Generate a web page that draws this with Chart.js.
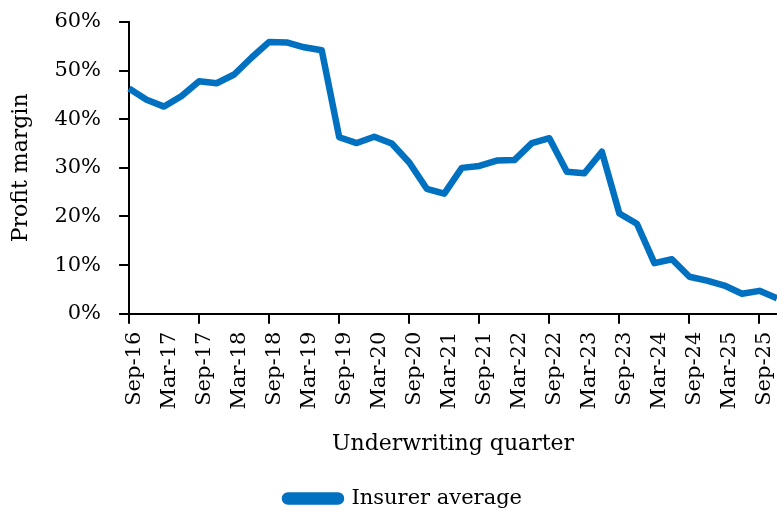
<!DOCTYPE html>
<html>
<head>
<meta charset="utf-8">
<script src="https://cdn.jsdelivr.net/npm/chart.js@4/dist/chart.umd.min.js"></script>
<style>
    html, body { margin: 0; padding: 0; background: #fff; }
    #wrap { width: 777px; height: 510px; position: relative; }
</style>
</head>
<body>
<div id="wrap"><canvas id="margin-chart"></canvas></div>
<script>
// underwriting quarters, Sep-16 .. Dec-25
const quarters = [
    'Sep-16', 'Dec-16', 'Mar-17', 'Jun-17', 'Sep-17', 'Dec-17', 'Mar-18', 'Jun-18',
    'Sep-18', 'Dec-18', 'Mar-19', 'Jun-19', 'Sep-19', 'Dec-19', 'Mar-20', 'Jun-20',
    'Sep-20', 'Dec-20', 'Mar-21', 'Jun-21', 'Sep-21', 'Dec-21', 'Mar-22', 'Jun-22',
    'Sep-22', 'Dec-22', 'Mar-23', 'Jun-23', 'Sep-23', 'Dec-23', 'Mar-24', 'Jun-24',
    'Sep-24', 'Dec-24', 'Mar-25', 'Jun-25', 'Sep-25', 'Dec-25'
];

// profit margin, %
const insurerAverage = [
    46.3, 44.0, 42.6, 44.8, 47.8, 47.4, 49.2, 52.7,
    55.9, 55.8, 54.8, 54.2, 36.3, 35.1, 36.4, 35.0,
    31.1, 25.7, 24.7, 30.0, 30.4, 31.5, 31.6, 35.1,
    36.1, 29.2, 28.9, 33.3, 20.6, 18.5, 10.4, 11.2,
    7.6, 6.8, 5.8, 4.1, 4.7, 3.2
];

const yTicks = [0, 10, 20, 30, 40, 50, 60];

const font = {family: '"DejaVu Serif", serif', size: 21};
const titleFont = {family: '"DejaVu Serif", serif', size: 22};
const ink = '#000';
const blue = '#0070C0';

// only every second quarter gets a tick and a label, not the very last one
function showTick(index) {
    return index % 2 === 0 && index < quarters.length - 1;
}

// the legend sits a bit right of the canvas centre and low in the original
const legendShift = {
    id: 'legendShift',
    afterLayout(chart) {
        if (chart.legend) {
            chart.legend.left += 13;
            chart.legend.right += 13;
            chart.legend.top += 9;
            chart.legend.bottom += 9;
        }
    }
};

let chart = new Chart(document.querySelector('#margin-chart'), {
    type: 'line',
    data: {
        labels: quarters,
        datasets: [{
            label: 'Insurer average',
            data: insurerAverage,
            borderColor: blue,
            backgroundColor: blue,
            borderWidth: 6.5,
            borderJoinStyle: 'round',
            pointRadius: 0,
            tension: 0,
        }]
    },
    plugins: [legendShift],
    options: {
        responsive: true,
        maintainAspectRatio: false,
        animation: false,
        layout: {padding: {top: 0, left: 4, right: 0, bottom: 0}},
        plugins: {
            tooltip: {enabled: false},
            legend: {
                position: 'bottom',
                labels: {
                    color: ink,
                    font: font,
                    boxWidth: 56,
                    boxHeight: 6,
                    useBorderRadius: true,
                    borderRadius: 3,
                    padding: 0,
                },
            },
        },
        scales: {
            x: {
                offset: false,
                border: {display: true, color: ink, width: 2},
                grid: {
                    drawOnChartArea: false,
                    drawTicks: true,
                    tickLength: 10,
                    lineWidth: 2,
                    color: (ctx) => showTick(ctx.index) ? ink : 'rgba(0,0,0,0)',
                },
                ticks: {
                    autoSkip: false,
                    maxRotation: 90,
                    minRotation: 90,
                    padding: 8,
                    labelOffset: 5,
                    color: ink,
                    font: font,
                    callback: function (value, index) {
                        return showTick(index) ? quarters[index] : null;
                    },
                },
                // the plot runs right up to the canvas edge
                afterFit: (scale) => {
                    scale.paddingRight = 0;
                },
                title: {
                    display: true,
                    text: 'Underwriting quarter',
                    color: ink,
                    font: titleFont,
                    padding: {top: 13, bottom: 22},
                },
            },
            y: {
                min: yTicks[0],
                max: yTicks[yTicks.length - 1],
                border: {display: true, color: ink, width: 2},
                grid: {drawOnChartArea: false, drawTicks: true, tickLength: 10, lineWidth: 2, color: ink},
                ticks: {
                    stepSize: 10,
                    padding: 18,
                    color: ink,
                    font: font,
                    callback: (value) => value + '%',
                },
                afterBuildTicks: (scale) => {
                    scale.ticks = yTicks.map((v) => ({value: v}));
                },
                afterFit: (scale) => {
                    scale.paddingTop = 22;
                },
                title: {
                    display: true,
                    text: 'Profit margin',
                    color: ink,
                    font: titleFont,
                    padding: {top: 4, bottom: 2},
                },
            },
        },
    },
});
</script>
</body>
</html>
